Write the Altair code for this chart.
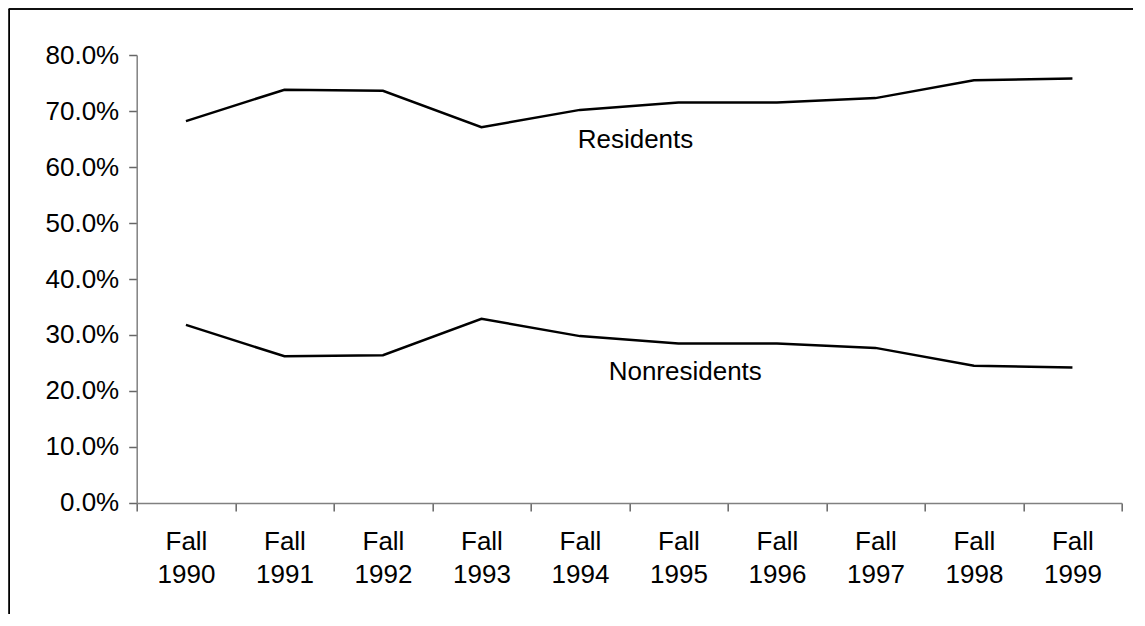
import altair as alt
import pandas as pd

years = ["Fall 1990", "Fall 1991", "Fall 1992", "Fall 1993", "Fall 1994",
         "Fall 1995", "Fall 1996", "Fall 1997", "Fall 1998", "Fall 1999"]
residents = [0.682, 0.738, 0.736, 0.671, 0.702, 0.715, 0.715, 0.723, 0.755, 0.758]
nonresidents = [0.318, 0.262, 0.264, 0.329, 0.298, 0.285, 0.285, 0.277, 0.245, 0.242]

label_names = ["Residents", "Nonresidents"]
label_year = ["Fall 1994", "Fall 1994"]
label_value = [0.634, 0.220]
label_dx = [47, 78]

rows = []
for y, r, n in zip(years, residents, nonresidents):
    rows.append({"year": y, "series": "Residents", "value": r})
    rows.append({"year": y, "series": "Nonresidents", "value": n})
df = pd.DataFrame(rows)

labels = pd.DataFrame({"name": label_names, "year": label_year,
                       "value": label_value, "dx": label_dx})

FONT = "Liberation Sans"
FS = 26

x_enc = alt.X("year:N", sort=years, title=None,
              scale=alt.Scale(paddingInner=0, paddingOuter=0),
              axis=alt.Axis(labelAngle=0, labelExpr="split(datum.label, ' ')",
                            labelFont=FONT, labelFontSize=FS, labelColor="black",
                            labelLineHeight=33, labelPadding=18, labelBaseline="top",
                            tickSize=8, tickColor="#666", domainColor="#808080",
                            domainWidth=1.5, tickWidth=1.5, grid=False,
                            tickBand="extent", labelBound=False))
y_enc = alt.Y("value:Q", title=None,
              scale=alt.Scale(domain=[0, 0.8], nice=False),
              axis=alt.Axis(values=[0, 0.1, 0.2, 0.3, 0.4, 0.5, 0.6, 0.7, 0.8],
                            format=".1%", labelFont=FONT, labelFontSize=FS,
                            labelColor="black", labelPadding=10, tickSize=8,
                            tickColor="#666", domainColor="#808080",
                            domainWidth=1.5, tickWidth=1.5, grid=False))

lines = alt.Chart(df).mark_line(color="black", strokeWidth=2.5).encode(
    x=x_enc, y=y_enc, detail="series:N")

texts = alt.Chart(labels).mark_text(font=FONT, fontSize=FS, align="left",
                                    baseline="alphabetic", color="black").encode(
    x=alt.X("year:N", sort=years), y="value:Q", text="name:N",
    xOffset=alt.XOffset("dx:Q", scale=None))

border_top = alt.Chart(labels).mark_rule(color="black", strokeWidth=1.5).encode(
    x=alt.value(-128), x2=alt.value(1000), y=alt.value(-46))
border_left = alt.Chart(labels).mark_rule(color="black", strokeWidth=1.5).encode(
    x=alt.value(-127.5), y=alt.value(-46), y2=alt.value(560))

chart = alt.layer(lines, texts, border_top, border_left).properties(
    width=985, height=448,
    autosize=alt.AutoSizeParams(type="none"),
    padding={"left": 128.7, "top": 47, "right": 11, "bottom": 111},
).configure_view(stroke=None)

chart.save("out.html", embed_options={"renderer": "svg", "actions": False})
